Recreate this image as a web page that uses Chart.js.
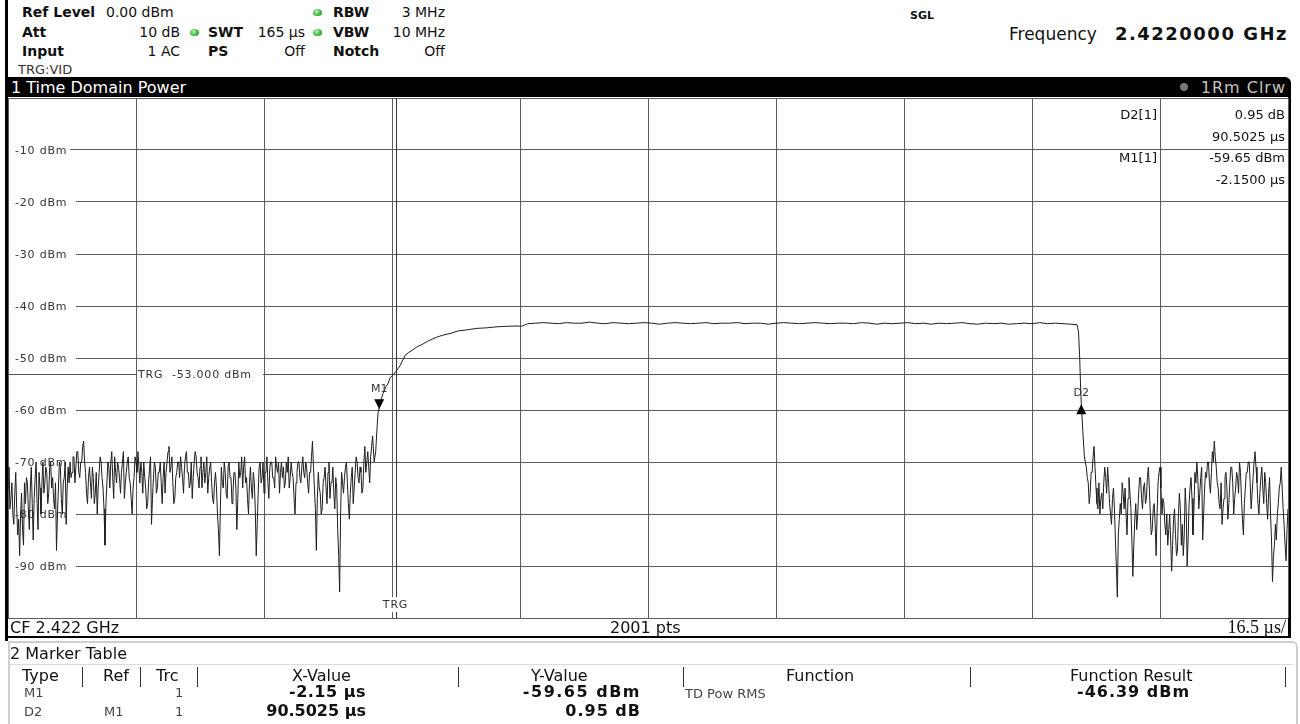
<!DOCTYPE html>
<html>
<head>
<meta charset="utf-8">
<script src="https://cdn.jsdelivr.net/npm/chart.js@4.4.1/dist/chart.umd.min.js"></script>
<style>
body { margin:0; width:1300px; height:724px; overflow:hidden; background:#fff; position:relative; font-family:"DejaVu Sans", sans-serif; color:#111; }
.t { position:absolute; white-space:nowrap; font-size:14px; line-height:16px; }
.b { font-weight:bold; }
.dot { position:absolute; width:9px; height:7px; border-radius:50%; background:radial-gradient(circle at 40% 35%, #b6f5b6, #23a823 70%); }
.bar { position:absolute; background:#000; }
.sep { position:absolute; width:1px; background:#333; top:667px; height:20px; }
#tdp { position:absolute; left:6px; top:96px; }
</style>
</head>
<body>
<!-- instrument header -->
<div class="bar" style="left:5px;top:0;width:3px;height:78px"></div>
<div class="t b" style="left:22px;top:4px">Ref Level</div>
<div class="t" style="left:106px;top:4px">0.00 dBm</div>
<div class="dot" style="left:313px;top:9px"></div>
<div class="t b" style="left:333px;top:4px">RBW</div>
<div class="t" style="right:855px;top:4px">3 MHz</div>

<div class="t b" style="left:22px;top:24px">Att</div>
<div class="t" style="right:1120px;top:24px">10 dB</div>
<div class="dot" style="left:190px;top:29px"></div>
<div class="t b" style="left:208px;top:24px">SWT</div>
<div class="t" style="right:995px;top:24px">165 µs</div>
<div class="dot" style="left:313px;top:29px"></div>
<div class="t b" style="left:333px;top:24px">VBW</div>
<div class="t" style="right:855px;top:24px">10 MHz</div>

<div class="t b" style="left:22px;top:43px">Input</div>
<div class="t" style="right:1120px;top:43px">1 AC</div>
<div class="t b" style="left:208px;top:43px">PS</div>
<div class="t" style="right:995px;top:43px">Off</div>
<div class="t b" style="left:333px;top:43px">Notch</div>
<div class="t" style="right:855px;top:43px">Off</div>
<div class="t" style="left:18px;top:62px;font-size:13px;color:#333">TRG:VID</div>

<div class="t b" style="left:910px;top:8px;font-size:11px">SGL</div>
<div class="t" style="left:1009px;top:25px;font-size:17px;line-height:18px">Frequency</div>
<div class="t b" style="right:12px;top:24px;font-size:18px;line-height:20px;letter-spacing:1.5px">2.4220000 GHz</div>

<!-- window title -->
<div class="bar" style="left:5px;top:77px;width:1286px;height:20px;border-top-right-radius:6px"></div>
<div class="t" style="left:11px;top:78px;font-size:16px;line-height:19px;color:#fff">1 Time Domain Power</div>
<div style="position:absolute;left:1180px;top:83px;width:8px;height:8px;border-radius:50%;background:#777"></div>
<div class="t" style="right:14px;top:78px;font-size:16px;line-height:19px;color:#c4c4c4;letter-spacing:1px">1Rm Clrw</div>
<div class="bar" style="left:5px;top:96px;width:3px;height:545px"></div>
<div class="bar" style="left:1288px;top:96px;width:3px;height:542px"></div>

<canvas id="tdp" width="1284" height="525"></canvas>

<!-- marker info -->
<div class="t" style="right:143px;top:107px;font-size:13px">D2[1]</div>
<div class="t" style="right:15px;top:107px;font-size:13px">0.95 dB</div>
<div class="t" style="right:15px;top:129px;font-size:13px">90.5025 µs</div>
<div class="t" style="right:143px;top:150px;font-size:13px">M1[1]</div>
<div class="t" style="right:15px;top:150px;font-size:13px">-59.65 dBm</div>
<div class="t" style="right:15px;top:172px;font-size:13px">-2.1500 µs</div>

<!-- footer of diagram -->
<div class="t" style="left:10px;top:619px;font-size:16px;line-height:18px">CF 2.422 GHz</div>
<div class="t" style="left:610px;top:619px;font-size:16px;line-height:18px">2001 pts</div>
<div class="t" style="right:14px;top:618px;font-size:18px;line-height:19px;font-family:'Liberation Serif',serif">16.5 µs/</div>
<div class="bar" style="left:5px;top:636px;width:1286px;height:2px"></div>

<!-- marker table -->
<div style="position:absolute;left:8px;top:641px;width:1286px;height:90px;border:2px solid #cfcfcf;border-top-right-radius:6px"></div>
<div class="t" style="left:10px;top:645px;font-size:16px;line-height:18px">2 Marker Table</div>
<div style="position:absolute;left:10px;top:664px;width:1284px;height:1px;background:#ddd"></div>
<div class="t" style="left:22px;top:668px;font-size:16px">Type</div>
<div class="sep" style="left:82px"></div>
<div class="t" style="left:103px;top:668px;font-size:16px">Ref</div>
<div class="sep" style="left:140px"></div>
<div class="t" style="left:156px;top:668px;font-size:16px">Trc</div>
<div class="sep" style="left:197px"></div>
<div class="t" style="left:292px;top:668px;font-size:16px">X-Value</div>
<div class="sep" style="left:458px"></div>
<div class="t" style="left:531px;top:668px;font-size:16px">Y-Value</div>
<div class="sep" style="left:683px"></div>
<div class="t" style="left:786px;top:668px;font-size:16px">Function</div>
<div class="sep" style="left:970px"></div>
<div class="t" style="left:1070px;top:668px;font-size:16px">Function Result</div>
<div class="sep" style="left:1285px"></div>

<div class="t" style="left:24px;top:685px;color:#444;font-size:13px">M1</div>
<div class="t" style="left:175px;top:685px;color:#444;font-size:13px">1</div>
<div class="t b" style="right:934px;top:684px;font-size:16px;letter-spacing:0.5px">-2.15 µs</div>
<div class="t b" style="right:659px;top:684px;font-size:16px;letter-spacing:1.5px">-59.65 dBm</div>
<div class="t" style="left:685px;top:686px;color:#444;font-size:13px">TD Pow RMS</div>
<div class="t b" style="left:1077px;top:684px;font-size:16px;letter-spacing:1px">-46.39 dBm</div>

<div class="t" style="left:24px;top:704px;color:#444;font-size:13px">D2</div>
<div class="t" style="left:104px;top:704px;color:#444;font-size:13px">M1</div>
<div class="t" style="left:175px;top:704px;color:#444;font-size:13px">1</div>
<div class="t b" style="right:934px;top:703px;font-size:16px">90.5025 µs</div>
<div class="t b" style="right:659px;top:703px;font-size:16px;letter-spacing:1px">0.95 dB</div>

<script>
// sweep: -50 .. 115 us, 16.5 us/div; level 0 .. -100 dBm
const timeGridUs = [-50, -33.5, -17, -0.5, 16, 32.5, 49, 65.5, 82, 98.5, 115];
const levelTicks = [-10, -20, -30, -40, -50, -60, -70, -80, -90];
const levelLabels = ['-10 dBm', '-20 dBm', '-30 dBm', '-40 dBm', '-50 dBm', '-60 dBm', '-70 dBm', '-80 dBm', '-90 dBm'];

// noise floor before the burst (every 0.125 us from -50 us)
const noiseStepUs = 0.125;
const leftNoiseStartUs = -50;
const leftNoiseDbm = [
  -75,-71,-79,-77,-74,-80,-82,-76,-72,-79,-84,-81,-88,-80,-76,-83,-86,-74,-78,-73,
  -74,-79,-83,-75,-71,-78,-85,-77,-73,-70,-78,-83,-72,-75,-80,-74,-70,-76,-74,-71,
  -72,-78,-76,-71,-70,-75,-73,-77,-79,-74,-87,-80,-75,-70,-71,-77,-80,-74,-73,-70,
  -82,-75,-71,-74,-70,-73,-72,-69,-69,-74,-71,-68,-68,-72,-73,-70,-70,-67,-66,-70,
  -72,-76,-78,-73,-71,-74,-77,-71,-73,-78,-76,-72,-80,-75,-72,-69,-70,-73,-75,-79,
  -86,-78,-74,-70,-71,-75,-70,-68,-73,-77,-69,-72,-74,-70,-71,-73,-76,-72,-70,-68,
  -77,-74,-72,-70,-69,-73,-74,-77,-80,-75,-73,-69,-70,-72,-68,-71,-74,-70,-72,-76,
  -70,-73,-75,-79,-78,-74,-71,-69,-82,-77,-73,-70,-71,-76,-75,-72,-72,-70,-74,-78,
  -73,-70,-76,-72,-70,-68,-67,-72,-71,-69,-74,-78,-77,-73,-72,-70,-70,-73,-69,-71,
  -73,-76,-71,-69,-68,-72,-72,-75,-74,-70,-77,-73,-70,-68,-69,-72,-73,-75,-71,-69,
  -75,-72,-70,-74,-72,-69,-76,-73,-71,-70,-74,-77,-78,-74,-72,-75,-80,-83,-88,-79,
  -71,-74,-75,-70,-72,-76,-77,-71,-70,-73,-73,-78,-76,-72,-72,-75,-83,-77,-70,-73,
  -72,-69,-75,-71,-69,-74,-73,-77,-80,-74,-71,-75,-77,-72,-74,-79,-88,-82,-76,-71,
  -70,-74,-73,-70,-76,-72,-72,-69,-74,-77,-71,-70,-70,-73,-73,-75,-69,-71,-72,-70,
  -76,-72,-70,-73,-71,-75,-74,-70,-72,-69,-75,-73,-70,-72,-73,-77,-80,-74,-72,-70,
  -70,-73,-74,-71,-69,-72,-73,-70,-71,-74,-76,-72,-72,-69,-66,-71,-75,-79,-87,-77,
  -72,-75,-76,-80,-79,-74,-73,-71,-75,-78,-72,-70,-77,-74,-74,-71,-76,-79,-73,-75,
  -83,-88,-95,-80,-72,-74,-76,-73,-71,-70,-74,-78,-81,-76,-73,-71,-78,-75,-72,-69,
  -70,-73,-74,-71,-72,-76,-75,-70,-67,-72,-70,-68,-71,-74,-69,-67
];

// rising edge of the burst
const edgeUs  = [-3.0, -2.8, -2.6, -2.45, -2.3, -2.15, -1.9, -1.66, -1.27, -0.97, -0.76, -0.33, 0.1, 0.53, 0.96, 1.18, 1.6, 2.21, 2.68, 3.5, 4.2, 4.79, 5.26, 6.07, 6.98, 8.0, 9.1, 10.46, 11.7, 13.04, 14.3, 15.6, 16.2];
const edgeDbm = [-65, -70, -68, -64, -60.5, -59.65, -58, -56.8, -55.5, -54.8, -53.8, -53.2, -52.4, -51.5, -50.2, -49.5, -49.0, -48.4, -47.9, -47.3, -46.7, -46.3, -46.0, -45.6, -45.3, -44.8, -44.6, -44.3, -44.2, -44.0, -43.9, -43.85, -43.9];

// burst plateau, every 1 us from 17 us
const plateauStartUs = 17;
const plateauStepUs = 1;
const plateauDbm = [
  -43.4,-43.3,-43.2,-43.3,-43.4,-43.2,-43.3,-43.3,-43.1,-43.3,
  -43.4,-43.2,-43.3,-43.4,-43.3,-43.2,-43.3,-43.5,-43.3,-43.2,
  -43.3,-43.4,-43.3,-43.2,-43.4,-43.3,-43.3,-43.2,-43.4,-43.3,
  -43.3,-43.5,-43.3,-43.2,-43.3,-43.4,-43.3,-43.2,-43.3,-43.4,
  -43.3,-43.3,-43.4,-43.2,-43.3,-43.5,-43.3,-43.4,-43.3,-43.2,
  -43.4,-43.3,-43.5,-43.3,-43.4,-43.3,-43.2,-43.4,-43.5,-43.3,
  -43.4,-43.3,-43.5,-43.4,-43.3,-43.4,-43.2,-43.4,-43.3,-43.4,
  -43.5
];

// falling edge
const fallUs  = [87.8, 88.0, 88.15, 88.25, 88.35, 88.55, 88.75];
const fallDbm = [-43.6, -45, -50, -55, -58.7, -64, -69];

// noise floor after the burst (every 0.125 us from 89 us)
const rightNoiseStartUs = 89;
const rightNoiseDbm = [
  -71,-73,-74,-78,-76,-72,-72,-69,-67,-71,-75,-78,-79,-74,-80,-77,-76,-79,-74,-71,
  -73,-76,-71,-74,-78,-80,-82,-77,-75,-79,-85,-90,-96,-84,-81,-78,-80,-74,-76,-79,
  -75,-80,-84,-77,-73,-76,-79,-85,-92,-86,-81,-78,-83,-80,-76,-73,-73,-77,-79,-75,
  -74,-78,-77,-73,-71,-75,-80,-84,-83,-79,-78,-82,-88,-80,-74,-72,-71,-75,-80,-77,
  -78,-82,-84,-80,-86,-83,-80,-85,-91,-86,-81,-79,-84,-88,-87,-80,-76,-79,-86,-82,
  -88,-84,-75,-79,-90,-85,-78,-75,-73,-77,-84,-79,-72,-74,-70,-73,-79,-76,-73,-71,
  -85,-80,-75,-72,-73,-70,-70,-74,-76,-72,-68,-70,-66,-69,-71,-74,-75,-78,-79,-74,
  -82,-79,-77,-73,-72,-75,-81,-78,-74,-71,-71,-74,-80,-77,-75,-72,-73,-76,-70,-72,
  -77,-81,-84,-78,-75,-72,-72,-70,-70,-74,-79,-76,-73,-70,-68,-71,-74,-78,-80,-76,
  -73,-71,-75,-78,-72,-74,-78,-81,-76,-73,-80,-85,-93,-88,-86,-82,-85,-80,-78,-75,
  -74,-71,-75,-79,-82,-86,-89,-83,-79,-85,-92,-88
];

const trgLevelDbm = -53;
const trgUs = 0;
const markerNames = ['M1', 'D2'];
const markerUs = [-2.15, 88.35];
const markerDbm = [-59.65, -58.7];
const markerDown = [true, false];

function buildTrace() {
    const pts = [];
    leftNoiseDbm.forEach((v, i) => pts.push({x: leftNoiseStartUs + i * noiseStepUs, y: v}));
    edgeUs.forEach((t, i) => pts.push({x: t, y: edgeDbm[i]}));
    plateauDbm.forEach((v, i) => pts.push({x: plateauStartUs + i * plateauStepUs, y: v}));
    fallUs.forEach((t, i) => pts.push({x: t, y: fallDbm[i]}));
    rightNoiseDbm.forEach((v, i) => pts.push({x: rightNoiseStartUs + i * noiseStepUs, y: v}));
    return pts;
}

// labels, trigger level line and trigger position, drawn under the trace
const underlay = {
    id: 'underlay',
    beforeDatasetsDraw(chart) {
        const {ctx, chartArea: a, scales: {x, y}} = chart;
        ctx.save();
        ctx.font = '11px "DejaVu Sans"';
        ctx.textBaseline = 'middle';
        levelTicks.forEach((v, i) => {
            const py = Math.round(y.getPixelForValue(v));
            const w = ctx.measureText(levelLabels[i]).width + levelLabels[i].length * 0.8;
            ctx.fillStyle = '#fff';
            ctx.fillRect(a.left + 1, py - 6, w + 9, 13);
            ctx.fillStyle = '#333';
            ctx.letterSpacing = '0.8px';
            ctx.fillText(levelLabels[i], a.left + 7, py + 1);
        });

        // trigger level
        ctx.strokeStyle = '#555';
        ctx.lineWidth = 1;
        const ty = Math.round(y.getPixelForValue(trgLevelDbm)) + 0.5;
        ctx.beginPath(); ctx.moveTo(a.left, ty); ctx.lineTo(a.right, ty); ctx.stroke();
        const gx1 = Math.round(x.getPixelForValue(timeGridUs[1]));
        const gx2 = Math.round(x.getPixelForValue(timeGridUs[2]));
        ctx.fillStyle = '#fff';
        ctx.fillRect(gx1 + 1, ty - 7, gx2 - gx1 - 2, 14);
        ctx.fillStyle = '#333';
        ctx.fillText('TRG  -53.000 dBm', gx1 + 2, ty + 1);

        // trigger position
        const tx = Math.round(x.getPixelForValue(trgUs)) + 0.5;
        ctx.strokeStyle = '#333';
        ctx.beginPath(); ctx.moveTo(tx, a.top); ctx.lineTo(tx, a.bottom); ctx.stroke();
        ctx.fillStyle = '#fff';
        ctx.fillRect(tx - 14, a.bottom - 21, 26, 15);
        ctx.fillStyle = '#333';
        ctx.textAlign = 'center';
        ctx.fillText('TRG', tx - 1, a.bottom - 13);
        ctx.restore();
    },
    afterDatasetsDraw(chart) {
        const {ctx, scales: {x, y}} = chart;
        ctx.save();
        ctx.font = '11px "DejaVu Sans"';
        ctx.textAlign = 'center';
        ctx.textBaseline = 'middle';
        markerNames.forEach((name, i) => {
            const px = x.getPixelForValue(markerUs[i]);
            const py = y.getPixelForValue(markerDbm[i]);
            ctx.fillStyle = '#000';
            ctx.beginPath();
            if (markerDown[i]) {
                ctx.moveTo(px, py + 1); ctx.lineTo(px - 5, py - 9); ctx.lineTo(px + 5, py - 9);
            } else {
                ctx.moveTo(px, py + 1); ctx.lineTo(px - 5, py + 11); ctx.lineTo(px + 5, py + 11);
            }
            ctx.closePath(); ctx.fill();
            ctx.fillStyle = '#333';
            ctx.fillText(name, px, markerDown[i] ? py - 19 : py - 10);
        });
        ctx.restore();
    }
};

const gridStyle = {color: '#5c5c5c', lineWidth: 1, drawTicks: false};

new Chart(document.getElementById('tdp'), {
    type: 'line',
    data: {
        datasets: [{
            data: buildTrace(),
            borderColor: '#1e1e1e',
            borderWidth: 1,
            pointRadius: 0,
            tension: 0
        }]
    },
    options: {
        responsive: false,
        animation: false,
        devicePixelRatio: 1,
        layout: {padding: {left: 2, right: 2, top: 2, bottom: 3}},
        plugins: {legend: {display: false}, tooltip: {enabled: false}},
        scales: {
            x: {
                type: 'linear', min: -50, max: 115,
                ticks: {display: false},
                grid: gridStyle,
                border: {display: false},
                afterBuildTicks: s => { s.ticks = timeGridUs.map(v => ({value: v})); }
            },
            y: {
                min: -100, max: 0,
                ticks: {display: false, stepSize: 10},
                grid: gridStyle,
                border: {display: false}
            }
        }
    },
    plugins: [underlay]
});
</script>
</body>
</html>
